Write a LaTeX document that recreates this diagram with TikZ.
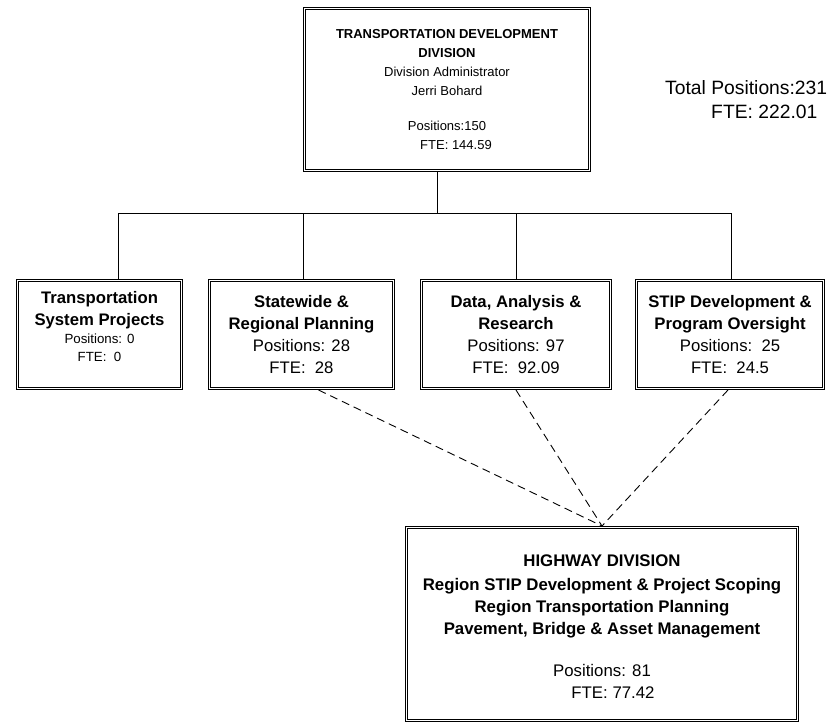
\documentclass[tikz,border=0pt]{standalone}
\usepackage{fontspec}
\setmainfont{Liberation Sans}

\begin{document}
\begin{tikzpicture}[x=1pt,y=-1pt,
    unit/.style={draw,line width=0.9pt,inner sep=0pt,align=center,minimum height=110.1pt},
    link/.style={line width=0.9pt},
    dashlink/.style={line width=0.9pt,dash pattern=on 8pt off 5pt}]
    \useasboundingbox (0,0) rectangle (840,723);
    % division office
    \node[unit, minimum width=287.1pt, minimum height=164.1pt, font=\fontsize{13}{19}\selectfont] (tdd) at (447,89.5)
        {\textbf{TRANSPORTATION DEVELOPMENT}\\ \textbf{DIVISION}\\ Division Administrator\\ Jerri Bohard\\[16pt] Positions:150\\ \hspace*{18pt}FTE: 144.59};
    \node[anchor=west, align=left, inner sep=0pt, font=\fontsize{19.3}{24}\selectfont] (total) at (665,100)
        {Total Positions:231\\ \hspace*{46pt}FTE: 222.01};
    % units
    \node[unit, minimum width=166.1pt, font=\fontsize{16.7}{22}\selectfont] (tsp) at (99.5,334.5)
        {\textbf{Transportation}\\ \textbf{System Projects}\\[-4pt] {\fontsize{13.3}{18}\selectfont Positions: 0}\\[-4pt] {\fontsize{13.3}{18}\selectfont FTE:\ \ 0\rule[-16pt]{0pt}{16pt}}};
    \node[unit, minimum width=186.1pt, font=\fontsize{16.7}{22}\selectfont] (swp) at (301.5,334.5)
        {\textbf{Statewide \&}\\ \textbf{Regional Planning}\\ Positions: 28\\ FTE:\ \ 28};
    \node[unit, minimum width=191.1pt, font=\fontsize{16.7}{22}\selectfont] (dar) at (516,334.5)
        {\textbf{Data, Analysis \&}\\ \textbf{Research}\\ Positions: 97\\ FTE:\ \ 92.09};
    \node[unit, minimum width=189.1pt, font=\fontsize{16.7}{22}\selectfont] (stip) at (730,334.5)
        {\textbf{STIP Development \&}\\ \textbf{Program Oversight}\\ Positions:\ \ 25\\ FTE:\ \ 24.5};
    % highway division
    \node[unit, minimum width=393.1pt, minimum height=195.1pt, font=\fontsize{16.8}{22}\selectfont] (hwy) at (602,624)
        {\rule{0pt}{17pt}\textbf{HIGHWAY DIVISION}\\[2pt] \textbf{Region STIP Development \& Project Scoping}\\ \textbf{Region Transportation Planning}\\ \textbf{Pavement, Bridge \& Asset Management}\\[20pt] Positions: 81\\ \hspace*{22pt}FTE: 77.42};
    % inner frame lines
    \foreach \n in {tdd,tsp,swp,dar,stip,hwy}
        \draw[line width=0.8pt] ([xshift=2.45pt,yshift=-2.45pt]\n.north west) rectangle ([xshift=-2.45pt,yshift=2.45pt]\n.south east);
    % reporting lines
    \coordinate (bus) at (437,213);
    \draw[link] (tdd.south -| bus) -- (bus);
    \draw[link] ([xshift=19pt]tsp.north) |- ([xshift=1pt]stip.north |- bus) -- ([xshift=1pt]stip.north);
    \draw[link] ([xshift=1.5pt]swp.north |- bus) -- ([xshift=1.5pt]swp.north);
    \draw[link] (dar.north |- bus) -- (dar.north);
    \draw[dashlink] ([xshift=17pt]swp.south) -- (hwy.north);
    \draw[dashlink] (dar.south) -- (hwy.north);
    \draw[dashlink] ([xshift=-2pt]stip.south) -- (hwy.north);
\end{tikzpicture}
\end{document}
